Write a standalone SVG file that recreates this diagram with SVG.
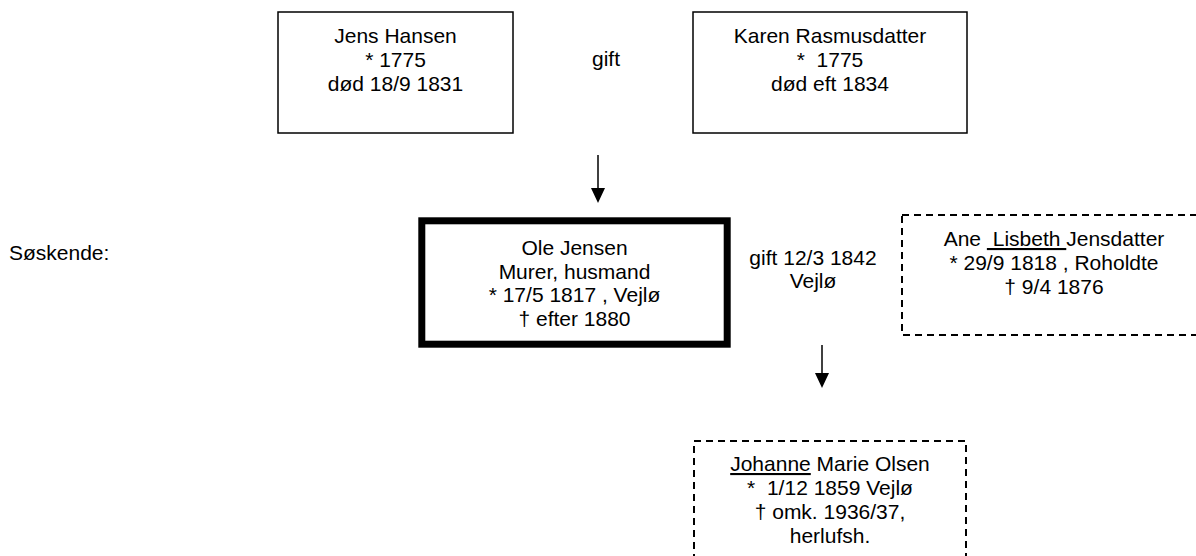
<svg xmlns="http://www.w3.org/2000/svg" width="1196" height="556" viewBox="0 0 1196 556">
<style>
text{font-family:"Liberation Sans",Arial,sans-serif;font-size:21px;fill:#000;white-space:pre}
.c{text-anchor:middle}
.box{fill:#fff;stroke:#000;stroke-width:1.5}
.thick{fill:#fff;stroke:#000;stroke-width:7}
.dash{fill:#fff;stroke:#000;stroke-width:2;stroke-dasharray:7,5}
.u{text-decoration:underline}
.conn{stroke:#000;stroke-width:1.5;fill:none}
</style>
<defs>
<marker id="ah" viewBox="0 0 15 14" refX="8" refY="7" markerWidth="15" markerHeight="14" markerUnits="userSpaceOnUse" orient="auto">
<path d="M0,0 L15,7 L0,14 Z" fill="#000"/>
</marker>
</defs>
<rect width="1196" height="556" fill="#fff"/>
<g id="jens">
<rect class="box" x="278" y="12" width="235" height="121"/>
<text class="c" x="395.5" y="43">Jens Hansen</text>
<text class="c" x="395.5" y="67">* 1775</text>
<text class="c" x="395.5" y="91">død 18/9 1831</text>
</g>
<g id="gift1"><text class="c" x="606" y="66">gift</text></g>
<g id="karen">
<rect class="box" x="693" y="12" width="274" height="121"/>
<text class="c" x="830" y="43">Karen Rasmusdatter</text>
<text class="c" x="830" y="67">*  1775</text>
<text class="c" x="830" y="91">død eft 1834</text>
</g>
<g id="soeskende"><text x="9" y="260">Søskende:</text></g>
<g id="ole">
<rect class="thick" x="421.8" y="220.8" width="305.4" height="123.4"/>
<text class="c" x="574.5" y="255">Ole Jensen</text>
<text class="c" x="574.5" y="278.5">Murer, husmand</text>
<text class="c" x="574.5" y="302">* 17/5 1817 , Vejlø</text>
<text class="c" x="574.5" y="325.5">† efter 1880</text>
</g>
<g id="gift2">
<text class="c" x="813" y="265">gift 12/3 1842</text>
<text class="c" x="813" y="288">Vejlø</text>
</g>
<g id="ane">
<rect class="dash" x="902" y="215" width="304" height="120"/>
<text class="c" x="1054" y="246">Ane <tspan class="u"> Lisbeth </tspan>Jensdatter</text>
<text class="c" x="1054" y="270">* 29/9 1818 , Roholdte</text>
<text class="c" x="1054" y="294">† 9/4 1876</text>
</g>
<g id="johanne">
<rect class="dash" x="694" y="441" width="272" height="130"/>
<text class="c" x="830" y="471"><tspan class="u">Johanne</tspan> Marie Olsen</text>
<text class="c" x="830" y="495">*  1/12 1859 Vejlø</text>
<text class="c" x="830" y="519">† omk. 1936/37,</text>
<text class="c" x="830" y="543">herlufsh.</text>
</g>
<g id="connectors">
<line class="conn" x1="598" y1="155" x2="598" y2="196" marker-end="url(#ah)"/>
<line class="conn" x1="822" y1="345" x2="822" y2="381" marker-end="url(#ah)"/>
</g>
</svg>
